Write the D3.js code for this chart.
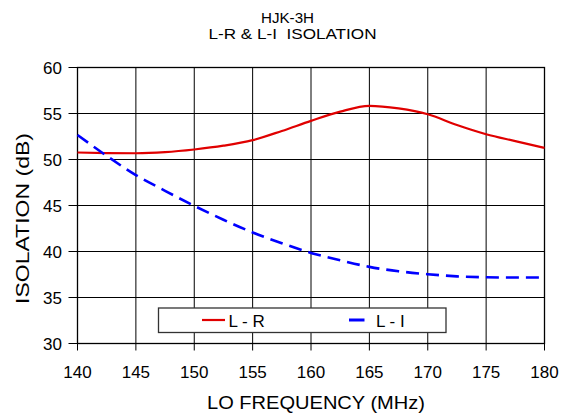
<!DOCTYPE html>
<html><head><meta charset="utf-8">
<script src="https://cdn.jsdelivr.net/npm/d3@7"></script>
<style>
body{margin:0;background:#fff;}
text{font-family:"Liberation Sans",Arial,sans-serif;fill:#000;}
</style></head><body>
<svg id="chart" width="568" height="417"></svg>
<script>
const titleLines = ["HJK-3H", "L-R & L-I  ISOLATION"];
const xLabel = "LO FREQUENCY (MHz)";
const yLabel = "ISOLATION (dB)";
const freq = [140, 142.5, 145, 147.5, 150, 152.5, 155, 157.5, 160, 162.5, 165, 167.5, 170, 172.5, 175, 177.5, 180];
const lr   = [50.76, 50.7, 50.68, 50.8, 51.09, 51.5, 52.1, 53.1, 54.2, 55.2, 55.83, 55.55, 54.92, 53.75, 52.75, 52.0, 51.26];
const li   = [52.67, 50.4, 48.3, 46.6, 44.96, 43.45, 42.07, 40.9, 39.85, 39.05, 38.33, 37.85, 37.53, 37.3, 37.2, 37.17, 37.17];
const xTicks = [140, 145, 150, 155, 160, 165, 170, 175, 180];
const yTicks = [30, 35, 40, 45, 50, 55, 60];
const seriesNames = ["L - R", "L - I"];
const seriesColors = ["#e00000", "#0000ff"];

const svg = d3.select("#chart");
const m = {l: 77.5, r: 544.5, t: 67.5, b: 343.5};
const x = d3.scaleLinear().domain([140, 180]).range([m.l, m.r]);
const y = d3.scaleLinear().domain([30, 60]).range([m.b, m.t]);

// titles
const tPos = [{x: 261, y: 22.5, len: 53}, {x: 208.5, y: 39, len: 168}];
svg.selectAll("text.title").data(titleLines).enter().append("text")
  .attr("x", (d, i) => tPos[i].x).attr("y", (d, i) => tPos[i].y)
  .attr("font-size", 14)
  .attr("textLength", (d, i) => tPos[i].len).attr("lengthAdjust", "spacingAndGlyphs")
  .style("white-space", "pre").text(d => d);

// grid
const g = svg.append("g");
g.selectAll("line.vg").data(xTicks).enter().append("line")
  .attr("x1", d => x(d)).attr("x2", d => x(d))
  .attr("y1", m.t).attr("y2", m.b + 7)
  .attr("stroke", "#000").attr("stroke-width", 1);
g.selectAll("line.hg").data(yTicks).enter().append("line")
  .attr("x1", m.l - 9).attr("x2", m.r)
  .attr("y1", d => y(d)).attr("y2", d => y(d))
  .attr("stroke", "#000").attr("stroke-width", 1);
g.append("rect").attr("x", m.l).attr("y", m.t).attr("width", m.r - m.l).attr("height", m.b - m.t)
  .attr("fill", "none").attr("stroke", "#000").attr("stroke-width", 1.3);

// tick labels
svg.selectAll("text.xt").data(xTicks).enter().append("text")
  .attr("x", d => x(d)).attr("y", 378).attr("text-anchor", "middle")
  .attr("font-size", 17).text(d => d);
svg.selectAll("text.yt").data(yTicks).enter().append("text")
  .attr("x", 62).attr("y", d => y(d) + 6).attr("text-anchor", "end")
  .attr("font-size", 17).text(d => d);

// axis titles
svg.append("text").attr("x", 207).attr("y", 408.5)
  .attr("font-size", 18.5).attr("textLength", 218).attr("lengthAdjust", "spacingAndGlyphs").text(xLabel);
svg.append("text").attr("transform", "translate(28.5,304) rotate(-90)")
  .attr("font-size", 18.5).attr("textLength", 171).attr("lengthAdjust", "spacingAndGlyphs").text(yLabel);

// lines
const line = d3.line().x((d, i) => x(freq[i])).y(d => y(d)).curve(d3.curveMonotoneX);
svg.append("path").datum(lr).attr("d", line).attr("fill", "none")
  .attr("stroke", seriesColors[0]).attr("stroke-width", 2.2);
svg.append("path").datum(li).attr("d", line).attr("fill", "none")
  .attr("stroke", seriesColors[1]).attr("stroke-width", 2.6).attr("stroke-dasharray", "13,7");

// legend
const lg = svg.append("g");
lg.append("rect").attr("x", 158.5).attr("y", 308).attr("width", 287.5).attr("height", 24.5)
  .attr("fill", "#fff").attr("stroke", "#333").attr("stroke-width", 1.3);
const legX = [[202, 225, 228.5], [349, 364.5, 376]];
seriesNames.forEach((n, i) => {
  lg.append("line").attr("x1", legX[i][0]).attr("x2", legX[i][1]).attr("y1", 320).attr("y2", 320)
    .attr("stroke", seriesColors[i]).attr("stroke-width", i ? 3 : 2.2);
  lg.append("text").attr("x", legX[i][2]).attr("y", 326.5).attr("font-size", 17)
    .style("white-space", "pre").text(n);
});
</script>
</body></html>
